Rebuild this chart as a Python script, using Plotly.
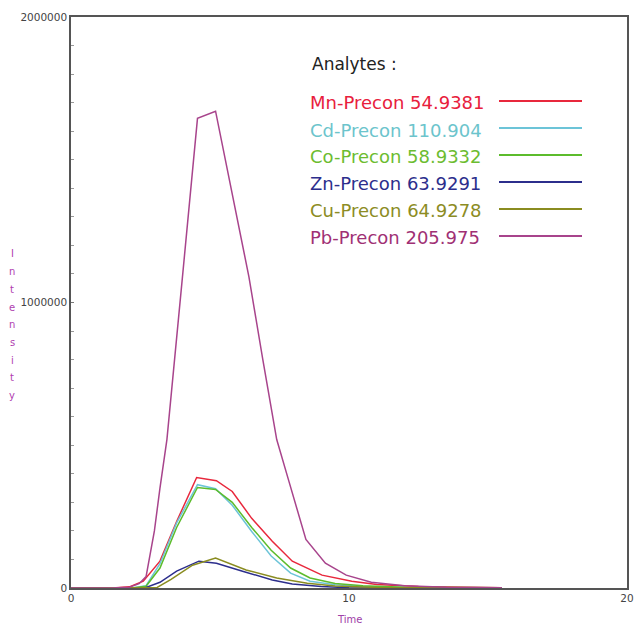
import plotly.graph_objects as go

# ---------------- data ----------------
names = ["Mn-Precon 54.9381", "Cd-Precon 110.904", "Co-Precon 58.9332",
         "Zn-Precon 63.9291", "Cu-Precon 64.9278", "Pb-Precon 205.975"]
line_colors = ["#e8283c", "#6cc4d8", "#5cbc2c", "#2c2e8c", "#8a8c20", "#a8448c"]
text_colors = ["#e8203c", "#6cc4cc", "#6cbc30", "#2c2e8c", "#8c8c24", "#a03074"]

mn_t = [0, 1.5, 2.1, 2.6, 3.2, 3.8, 4.52, 5.23, 5.8, 6.5, 7.24, 7.96, 9.03, 10.1, 11, 12.5, 15.5]
mn_v = [0, 0, 4e3, 24e3, 94e3, 233e3, 387e3, 376e3, 338e3, 244e3, 164e3, 94e3, 45e3, 24e3, 12e3, 5e3, 1e3]

cd_t = [0, 1.5, 2.2, 2.7, 3.2, 3.8, 4.55, 5.2, 5.8, 6.5, 7.2, 7.9, 8.6, 9.5, 10.5, 12, 15.5]
cd_v = [0, 0, 0, 8e3, 85e3, 228e3, 362e3, 348e3, 290e3, 198e3, 112e3, 52e3, 24e3, 11e3, 5e3, 2e3, 0]

co_t = [0, 1.5, 2.2, 2.7, 3.2, 3.8, 4.55, 5.2, 5.8, 6.5, 7.2, 7.9, 8.6, 9.5, 10.5, 12, 15.5]
co_v = [0, 0, 0, 6e3, 70e3, 212e3, 352e3, 345e3, 300e3, 212e3, 132e3, 70e3, 35e3, 16e3, 8e3, 3e3, 1e3]

zn_t = [0, 2.0, 2.7, 3.2, 3.8, 4.6, 5.23, 6.17, 7.24, 7.96, 9.0, 10, 15.5]
zn_v = [0, 0, 2e3, 20e3, 59e3, 94e3, 87e3, 59e3, 28e3, 14e3, 5e3, 1e3, 0]

cu_t = [0, 2.5, 3.1, 3.6, 4.37, 5.2, 6.3, 7.4, 8.5, 9.5, 11, 15.5]
cu_v = [0, 0, 2e3, 30e3, 80e3, 105e3, 63e3, 35e3, 17e3, 7e3, 2e3, 0]

pb_t = [0, 1.5, 2.1, 2.45, 2.7, 3.0, 3.2, 3.45, 4.0, 4.55, 5.2, 5.8, 6.4, 6.9, 7.4, 7.85, 8.45, 9.15, 9.9, 10.8, 12, 13.5, 15.5]
pb_v = [0, 0, 3e3, 15e3, 40e3, 200e3, 350e3, 520e3, 1080e3, 1645e3, 1670e3, 1380e3, 1090e3, 800e3, 520e3, 370e3, 170e3, 87e3, 45e3, 20e3, 8e3, 3e3, 1e3]

series_t = [mn_t, cd_t, co_t, zn_t, cu_t, pb_t]
series_v = [mn_v, cd_v, co_v, zn_v, cu_v, pb_v]

x_ticks = [0, 10, 20]
y_ticks = [0, 1000000, 2000000]
y_title = "Intensity"
x_title = "Time"
legend_title = "Analytes :"

# ---------------- layout geometry (pixels) ----------------
W, H = 634, 627
ML, MR, MT, MB = 71, 7, 17, 39
PW, PH = W - ML - MR, H - MT - MB


def px(x):
    return (x - ML) / PW


def py(y):
    return (H - MB - y) / PH


fig = go.Figure()
for t, v, n, c in zip(series_t, series_v, names, line_colors):
    fig.add_trace(go.Scatter(x=t, y=v, mode="lines", name=n,
                             line=dict(color=c, width=1.5), showlegend=False))

annotations = []
shapes = []
# custom legend
annotations.append(dict(text=legend_title, x=px(310), y=py(64), xref="paper", yref="paper",
                        xanchor="left", yanchor="middle", showarrow=False,
                        font=dict(family="DejaVu Sans", size=17, color="#222222")))
for i, (n, tc, lc) in enumerate(zip(names, text_colors, line_colors)):
    yc = 103 + i * 27
    annotations.append(dict(text=n, x=px(308), y=py(yc), xref="paper", yref="paper",
                            xanchor="left", yanchor="middle", showarrow=False,
                            font=dict(family="DejaVu Sans", size=18, color=tc)))
    shapes.append(dict(type="line", xref="paper", yref="paper",
                       x0=px(499), x1=px(582), y0=py(yc - 2), y1=py(yc - 2),
                       line=dict(color=lc, width=2)))

# stacked y title
for i, ch in enumerate(y_title):
    annotations.append(dict(text=ch, x=px(12), y=py(254 + i * 17.7), xref="paper", yref="paper",
                            xanchor="center", yanchor="middle", showarrow=False,
                            font=dict(family="DejaVu Sans", size=10, color="#b040b0")))
annotations.append(dict(text=x_title, x=px(349), y=py(619), xref="paper", yref="paper",
                        xanchor="center", yanchor="middle", showarrow=False,
                        font=dict(family="DejaVu Sans", size=10, color="#a040a8")))

fig.update_layout(
    width=W, height=H,
    margin=dict(l=ML, r=MR, t=MT, b=MB, autoexpand=False),
    paper_bgcolor="white", plot_bgcolor="white",
    annotations=annotations, shapes=shapes,
    showlegend=False,
    xaxis=dict(range=[0, 20], tickvals=x_ticks, ticktext=[str(v) for v in x_ticks],
               showgrid=False, zeroline=False, showline=True, linecolor="#555555",
               linewidth=1.5, mirror=True, ticks="", automargin=False,
               tickfont=dict(family="DejaVu Sans", size=10.5, color="#444444")),
    yaxis=dict(range=[0, 2000000], tickvals=y_ticks, ticktext=[str(v) for v in y_ticks],
               showgrid=False, zeroline=False, showline=True, linecolor="#555555",
               linewidth=1.5, mirror=True, ticks="inside", ticklen=3, tickcolor="#777777",
               automargin=False,
               minor=dict(dtick=100000, ticks="inside", ticklen=3, tickcolor="#999999"),
               tickfont=dict(family="DejaVu Sans", size=10.5, color="#444444")),
)

fig.write_html("out.html")
